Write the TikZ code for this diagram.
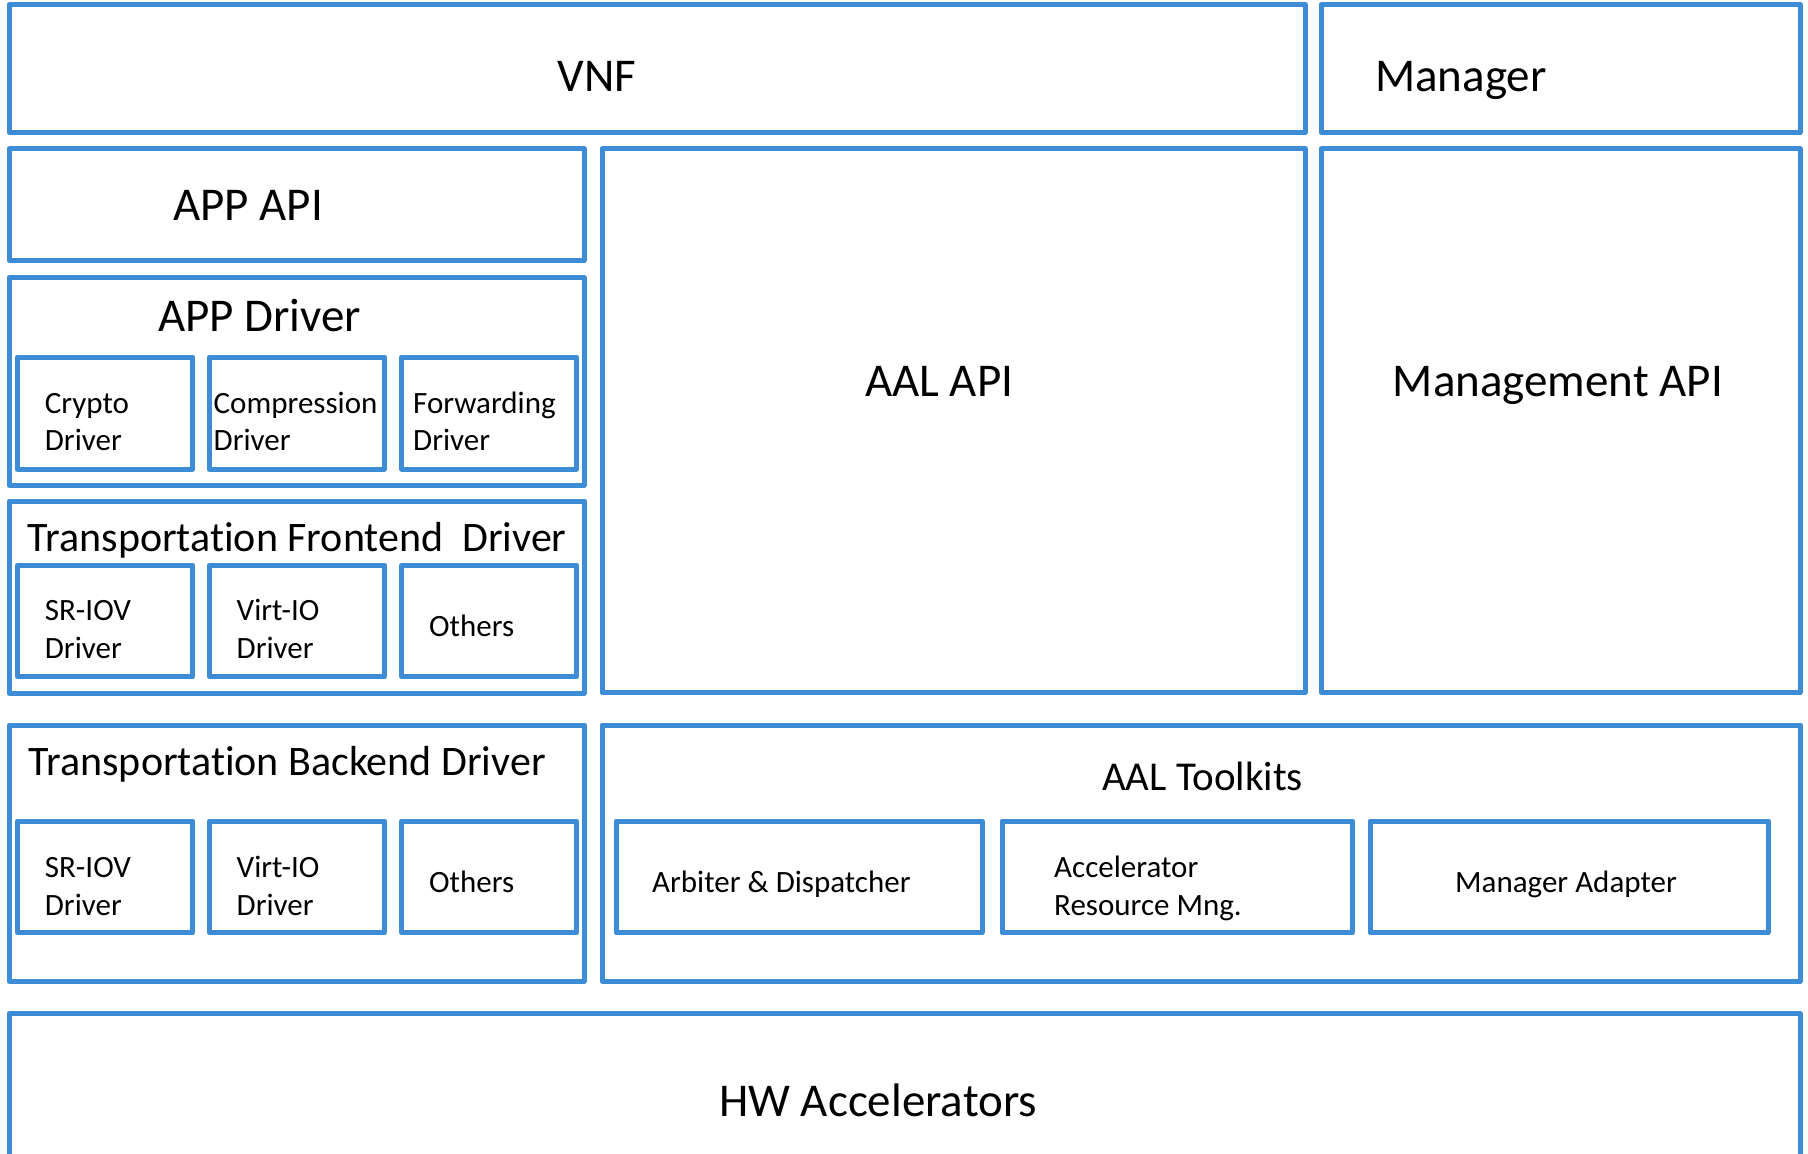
\documentclass[tikz,border=0pt]{standalone}
\usepackage{fontspec}
\setmainfont{Carlito}[Ligatures=NoCommon]
\usetikzlibrary{fit}
\definecolor{boxblue}{RGB}{62,139,214}
\tikzset{
  x=1pt, y=-1pt,
  box/.style={draw=boxblue, line width=5pt, line join=round, rectangle, inner sep=0pt},
  bigtxt/.style={inner sep=0pt, anchor=base west, font=\fontsize{47}{56}\selectfont},
  titletxt/.style={inner sep=0pt, anchor=base west, font=\fontsize{42}{50}\selectfont},
  tooltxt/.style={inner sep=0pt, anchor=base west, font=\fontsize{41}{49}\selectfont},
  smalltxt/.style={inner sep=0pt, anchor=base west, align=left, font=\fontsize{31}{37.5}\selectfont},
}
\newcommand{\mybox}[5]{\node[box, fit={(#2,#3) (#4,#5)}] (#1) {};}
\begin{document}
\begin{tikzpicture}
\useasboundingbox (0,0) rectangle (1808,1154);
\clip (0,0) rectangle (1808,1154);
% top row
\mybox{vnf}{9}{4.5}{1305}{132.7}
\mybox{mgr}{1321}{4.5}{1800}{132.7}
% left column
\mybox{appapi}{9}{148.8}{584}{260.5}
\mybox{appdrv}{9}{277.5}{584}{485}
\mybox{crypto}{17.2}{357}{192.8}{469}
\mybox{compr}{209}{357}{384.5}{469}
\mybox{fwd}{401.7}{357}{576.7}{469}
\mybox{front}{9}{501}{584}{693}
\mybox{fsriov}{17.2}{565.5}{192.8}{676.5}
\mybox{fvirt}{209}{565.5}{384.5}{676.5}
\mybox{fother}{401.7}{565.5}{576.7}{676.5}
% middle and right
\mybox{aalapi}{602}{148.8}{1305}{692.5}
\mybox{mgmtapi}{1321}{148.8}{1800}{692.5}
% backend row
\mybox{back}{9}{725}{584}{981}
\mybox{bsriov}{17.2}{821}{192.8}{932.5}
\mybox{bvirt}{209}{821}{384.5}{932.5}
\mybox{bother}{401.7}{821}{576.7}{932.5}
\mybox{tool}{602}{725}{1800}{981}
\mybox{arb}{616}{821}{982}{932.5}
\mybox{accres}{1002}{821}{1352.5}{932.5}
\mybox{mgradp}{1370}{821}{1768}{932.5}
% HW
\mybox{hw}{9}{1013.5}{1800}{1180}
% texts
\node[bigtxt] (t-vnf) at (557.5,91.7) {VNF};
\node[bigtxt] (t-mgr) at (1375,91.7) {Manager};
\node[bigtxt] (t-appapi) at (173,220) {APP API};
\node[bigtxt] (t-aalapi) at (865,396) {AAL API};
\node[bigtxt] (t-mgmtapi) at (1392.7,396) {Management API};
\node[bigtxt] (t-appdrv) at (158,331.7) {APP Driver};
% multi-line nodes: base anchor = baseline of the last line
\node[smalltxt] (t-crypto) at (44.7,450.7) {Crypto\\Driver};
\node[smalltxt] (t-compr) at (213.5,450.7) {Compression\\Driver};
\node[smalltxt] (t-fwd) at (413,450.7) {Forwarding\\Driver};
\node[titletxt] (t-front) at (27.7,551.7) {Transportation Frontend~~Driver};
\node[smalltxt] (t-fsriov) at (44.7,658.3) {SR-IOV\\Driver};
\node[smalltxt] (t-fvirt) at (236.5,658.3) {Virt-IO\\Driver};
\node[smalltxt] (t-fother) at (429,636.7) {Others};
\node[titletxt] (t-back) at (28.5,775) {Transportation Backend Driver};
\node[smalltxt] (t-bsriov) at (44.7,915) {SR-IOV\\Driver};
\node[smalltxt] (t-bvirt) at (236.5,915) {Virt-IO\\Driver};
\node[smalltxt] (t-bother) at (429,892.7) {Others};
\node[tooltxt] (t-tool) at (1102,790.7) {AAL Toolkits};
\node[smalltxt] (t-arb) at (652,892.7) {Arbiter \& Dispatcher};
\node[smalltxt] (t-accres) at (1054,915) {Accelerator\\Resource Mng.};
\node[smalltxt] (t-mgradp) at (1455,892.7) {Manager Adapter};
\node[bigtxt] (t-hw) at (719,1116.7) {HW Accelerators};
\end{tikzpicture}
\end{document}
